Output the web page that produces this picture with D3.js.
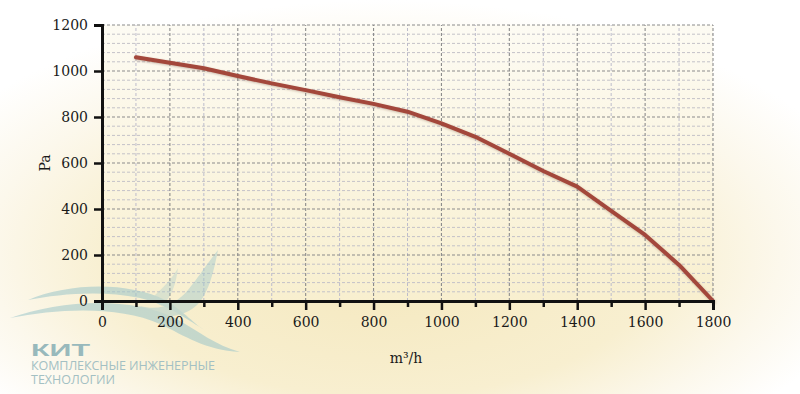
<!DOCTYPE html>
<html>
<head>
<meta charset="utf-8">
<script src="https://cdn.jsdelivr.net/npm/d3@7"></script>
<style>
  html, body { margin: 0; padding: 0; background: #fff; }
  svg { display: block; }
</style>
</head>
<body>
<script>
// fan curve: airflow (m3/h) vs pressure (Pa)
const flow = [100, 200, 300, 400, 500, 600, 700, 800, 900, 1000, 1100, 1200, 1300, 1400, 1500, 1600, 1700, 1800];
const pressure = [1060, 1036, 1012, 978, 946, 917, 886, 857, 823, 772, 714, 640, 565, 497, 392, 287, 157, 0];
const xTicks = [0, 200, 400, 600, 800, 1000, 1200, 1400, 1600, 1800];
const yTicks = [0, 200, 400, 600, 800, 1000, 1200];

const width = 800, height = 394;
const margin = { top: 25, right: 87, bottom: 93, left: 102 };

const svg = d3.select("body").append("svg")
    .attr("width", width)
    .attr("height", height);

const defs = svg.append("defs");

// cream background glow
const bg = defs.append("radialGradient")
    .attr("id", "bg")
    .attr("cx", "48%").attr("cy", "62%")
    .attr("r", "62%")
    .attr("fx", "48%").attr("fy", "72%");
bg.append("stop").attr("offset", "0%").attr("stop-color", "#f5e9c0");
bg.append("stop").attr("offset", "55%").attr("stop-color", "#f8efd0");
bg.append("stop").attr("offset", "80%").attr("stop-color", "#fcf8ec");
bg.append("stop").attr("offset", "100%").attr("stop-color", "#ffffff");

const plotBg = defs.append("linearGradient")
    .attr("id", "plotbg")
    .attr("x1", 0).attr("y1", 0).attr("x2", 0).attr("y2", 1);
plotBg.append("stop").attr("offset", "0%").attr("stop-color", "#fdfbf3");
plotBg.append("stop").attr("offset", "100%").attr("stop-color", "#f8efcf");

const shadow = defs.append("filter").attr("id", "shadow")
    .attr("x", "-5%").attr("y", "-5%").attr("width", "110%").attr("height", "120%");
shadow.append("feDropShadow")
    .attr("dx", 0.5).attr("dy", 1).attr("stdDeviation", 1)
    .attr("flood-color", "#6b3a2a").attr("flood-opacity", 0.35);

svg.append("rect")
    .attr("width", width).attr("height", height)
    .attr("fill", "url(#bg)");

const innerW = width - margin.left - margin.right;
const innerH = height - margin.top - margin.bottom;

const x = d3.scaleLinear().domain([0, 1800]).range([margin.left, margin.left + innerW]);
const y = d3.scaleLinear().domain([0, 1200]).range([margin.top + innerH, margin.top]);

// plot area
svg.append("rect")
    .attr("x", margin.left).attr("y", margin.top)
    .attr("width", innerW).attr("height", innerH)
    .attr("fill", "url(#plotbg)");

const grid = svg.append("g").attr("class", "grid");

// minor horizontal lines every 40 Pa
grid.selectAll("line.hmin")
    .data(d3.range(40, 1200, 40).filter(v => v % 200 !== 0))
    .enter().append("line")
    .attr("class", "hmin")
    .attr("x1", x(0)).attr("x2", x(1800))
    .attr("y1", d => y(d)).attr("y2", d => y(d))
    .attr("stroke", "#c4c2c8")
    .attr("stroke-width", 1)
    .attr("stroke-dasharray", "3,2");

// minor vertical lines every 100 m3/h
grid.selectAll("line.vmin")
    .data(d3.range(100, 1800, 200))
    .enter().append("line")
    .attr("class", "vmin")
    .attr("x1", d => x(d)).attr("x2", d => x(d))
    .attr("y1", y(0)).attr("y2", y(1200))
    .attr("stroke", "#bdbccb")
    .attr("stroke-width", 1)
    .attr("stroke-dasharray", "3,2");

// major grid
grid.selectAll("line.hmaj")
    .data(yTicks.filter(v => v > 0))
    .enter().append("line")
    .attr("class", "hmaj")
    .attr("x1", x(0)).attr("x2", x(1800))
    .attr("y1", d => y(d)).attr("y2", d => y(d))
    .attr("stroke", "#8c8c8c")
    .attr("stroke-width", 1.1)
    .attr("stroke-dasharray", "3,2");

grid.selectAll("line.vmaj")
    .data(xTicks.filter(v => v > 0))
    .enter().append("line")
    .attr("class", "vmaj")
    .attr("x1", d => x(d)).attr("x2", d => x(d))
    .attr("y1", y(0)).attr("y2", y(1200))
    .attr("stroke", "#8c8c8c")
    .attr("stroke-width", 1.1)
    .attr("stroke-dasharray", "3,2");

// curve
const line = d3.line()
    .x((d, i) => x(flow[i]))
    .y(d => y(d));

svg.append("path")
    .datum(pressure)
    .attr("d", line)
    .attr("fill", "none")
    .attr("stroke", "#a3473b")
    .attr("stroke-width", 4)
    .attr("stroke-linejoin", "round")
    .attr("stroke-linecap", "round")
    .attr("filter", "url(#shadow)");

// watermark logo, faint, under the axes
const logo = svg.append("g").attr("class", "logo");
const swoosh = logo.append("g").attr("opacity", 0.55).attr("fill", "#9cc6ca");
swoosh.append("path")
    .attr("d", "M10,318 C60,300 130,296 175,318 C200,332 215,345 240,352 C205,350 185,336 160,324 C120,306 60,308 10,318 Z");
swoosh.append("path")
    .attr("d", "M28,300 C70,282 130,282 165,300 C185,312 195,325 205,330 C190,322 170,305 140,298 C100,290 60,294 28,300 Z");
swoosh.append("path")
    .attr("d", "M140,306 C162,312 178,302 188,290 C198,278 206,265 218,250 C214,270 210,288 200,302 C188,316 166,320 148,313 Z")
    .attr("opacity", 0.8);
swoosh.append("path")
    .attr("d", "M150,300 C160,290 170,282 178,268 C176,284 172,296 162,306 Z")
    .attr("opacity", 0.6);
logo.append("text")
    .attr("x", 31).attr("y", 356)
    .attr("font-family", "Liberation Sans, sans-serif")
    .attr("font-weight", "bold")
    .attr("font-size", 17)
    .attr("fill", "#98b9bc")
    .attr("textLength", 59)
    .attr("lengthAdjust", "spacingAndGlyphs")
    .text("КИТ");
logo.append("text")
    .attr("x", 31).attr("y", 370)
    .attr("font-family", "Open Sans, sans-serif")
    .attr("font-size", 12.5)
    .attr("fill", "#a3c0c3")
    .attr("textLength", 184)
    .text("КОМПЛЕКСНЫЕ ИНЖЕНЕРНЫЕ");
logo.append("text")
    .attr("x", 31).attr("y", 384)
    .attr("font-family", "Open Sans, sans-serif")
    .attr("font-size", 12.5)
    .attr("fill", "#a3c0c3")
    .attr("textLength", 84)
    .text("ТЕХНОЛОГИИ");

// axes
const font = "DejaVu Serif, serif";

const xAxis = svg.append("g")
    .attr("transform", `translate(0,${y(0)})`)
    .call(d3.axisBottom(x).tickValues(xTicks).tickSize(9).tickPadding(7).tickFormat(d3.format("d")));

// minor x ticks
svg.append("g")
    .attr("transform", `translate(0,${y(0)})`)
    .call(d3.axisBottom(x).tickValues(d3.range(100, 1800, 200)).tickSize(6).tickFormat(""))
    .call(g => g.select(".domain").remove())
    .selectAll("line").attr("stroke", "#111").attr("stroke-width", 2.5);

const yAxis = svg.append("g")
    .attr("transform", `translate(${x(0)},0)`)
    .call(d3.axisLeft(y).tickValues(yTicks).tickSize(8).tickPadding(6).tickFormat(d3.format("d")));

[xAxis, yAxis].forEach(g => {
    g.select(".domain").attr("stroke", "#111").attr("stroke-width", 3);
    g.selectAll(".tick line").attr("stroke", "#111").attr("stroke-width", 2.5);
    g.selectAll(".tick text")
        .attr("font-family", font)
        .attr("font-size", 14)
        .attr("fill", "#1a1a1a");
});

// axis titles
svg.append("text")
    .attr("transform", `translate(50,${y(600)}) rotate(-90)`)
    .attr("text-anchor", "middle")
    .attr("font-family", font)
    .attr("font-size", 14)
    .attr("fill", "#1a1a1a")
    .text("Pa");

svg.append("text")
    .attr("x", 406).attr("y", 363)
    .attr("text-anchor", "middle")
    .attr("font-family", font)
    .attr("font-size", 14)
    .attr("fill", "#1a1a1a")
    .text("m³/h");
</script>
</body>
</html>
